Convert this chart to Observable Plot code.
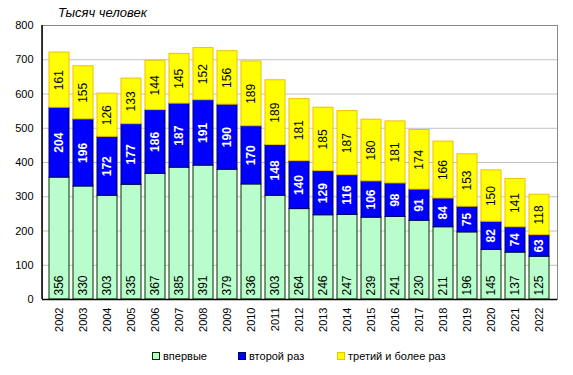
<!DOCTYPE html>
<html><head><meta charset="utf-8">
<script src="https://cdn.jsdelivr.net/npm/d3@7"></script>
<script src="https://cdn.jsdelivr.net/npm/@observablehq/plot@0.6"></script>
<style>
body{margin:0;background:#fff;font-family:Arial,"Liberation Sans",sans-serif;}
#wrap{position:relative;width:573px;height:375px;}
#title{position:absolute;left:58px;top:5px;font-style:italic;font-size:13px;color:#000;}
#legend{position:absolute;left:0;top:350px;width:573px;font-size:11px;}
.li{position:absolute;top:0;white-space:nowrap;}
.sw{display:inline-block;width:6px;height:6px;border:1px solid;margin-right:3px;vertical-align:0px;}
</style></head><body>
<div id="wrap"><div id="chart"></div><div id="title">Тысяч человек</div><div id="legend"></div></div>
<script>
const years = ["2002","2003","2004","2005","2006","2007","2008","2009","2010","2011","2012","2013","2014","2015","2016","2017","2018","2019","2020","2021","2022"];
const first = [356,330,303,335,367,385,391,379,336,303,264,246,247,239,241,230,211,196,145,137,125];
const second = [204,196,172,177,186,187,191,190,170,148,140,129,116,106,98,91,84,75,82,74,63];
const third = [161,155,126,133,144,145,152,156,189,189,181,185,187,180,181,174,166,153,150,141,118];
const seriesNames = ["впервые","второй раз","третий и более раз"];
const fills = ["#b8fdcb","#0000ff","#ffff00"];
const strokes = ["#003300","#000066","#f0c000"];
const yTicks = [0,100,200,300,400,500,600,700,800];

const rows = years.map((yr,i)=>({year:yr, a0:0, a1:first[i], b0:first[i], b1:first[i]+second[i], c0:first[i]+second[i], c1:first[i]+second[i]+third[i], v1:first[i], v2:second[i], v3:third[i]}));

const font = 'Arial, "Liberation Sans", sans-serif';
const leftLine = (...args) => {
  const dims = args.find(a => a && typeof a === "object" && "marginLeft" in a && "width" in a);
  const ns = "http://www.w3.org/2000/svg";
  const g = document.createElementNS(ns,"g");
  const l = document.createElementNS(ns,"line");
  l.setAttribute("x1", dims.marginLeft); l.setAttribute("x2", dims.marginLeft);
  l.setAttribute("y1", dims.marginTop); l.setAttribute("y2", dims.height - dims.marginBottom);
  l.setAttribute("stroke","#000"); l.setAttribute("stroke-width","1.5");
  g.appendChild(l);
  return g;
};

const chart = Plot.plot({
  width: 573, height: 345,
  marginTop: 25, marginBottom: 46, marginLeft: 42, marginRight: 16,
  style: {fontFamily: font, fontSize: "11px", color: "#000", background: "transparent"},
  x: {domain: years, paddingInner: 0.15, paddingOuter: 0.02, tickRotate: -90, tickSize: 0, tickPadding: 8, label: null},
  y: {domain: [0,800], ticks: yTicks, tickSize: 0, tickPadding: 9, label: null, tickFormat: d => String(d)},
  marks: [
    Plot.ruleY(yTicks, {stroke: "#c0c0c0"}),
    Plot.frame({stroke: "#888"}),
    Plot.barY(rows, {x: "year", y1: "a0", y2: "a1", fill: fills[0], stroke: strokes[0], strokeWidth: 1}),
    Plot.barY(rows, {x: "year", y1: "b0", y2: "b1", fill: fills[1], stroke: strokes[1], strokeWidth: 1}),
    Plot.barY(rows, {x: "year", y1: "c0", y2: "c1", fill: fills[2], stroke: strokes[2], strokeWidth: 1}),
    Plot.text(rows, {x: "year", y: "a0", text: d => String(d.v1), rotate: -90, textAnchor: "start", lineAnchor: "middle", dy: -4, fontSize: 12, fill: "#000"}),
    Plot.text(rows, {x: "year", y: d => (d.b0+d.b1)/2, text: d => String(d.v2), rotate: -90, textAnchor: "middle", lineAnchor: "middle", fontSize: 12, fontWeight: "bold", fill: "#fff"}),
    Plot.text(rows, {x: "year", y: d => (d.c0+d.c1)/2, text: d => String(d.v3), rotate: -90, textAnchor: "middle", lineAnchor: "middle", fontSize: 12, fill: "#000"}),
    Plot.ruleY([0], {stroke: "#000", strokeWidth: 1.5}),
    leftLine
  ]
});
document.getElementById("chart").appendChild(chart);

const legendX = [152, 238, 337];
const lg = document.getElementById("legend");
seriesNames.forEach((n,i)=>{
  const d = document.createElement("div");
  d.className = "li"; d.style.left = legendX[i] + "px";
  d.innerHTML = `<span class="sw" style="background:${fills[i]};border-color:${strokes[i]}"></span>${n}`;
  lg.appendChild(d);
});
</script>
</body></html>
